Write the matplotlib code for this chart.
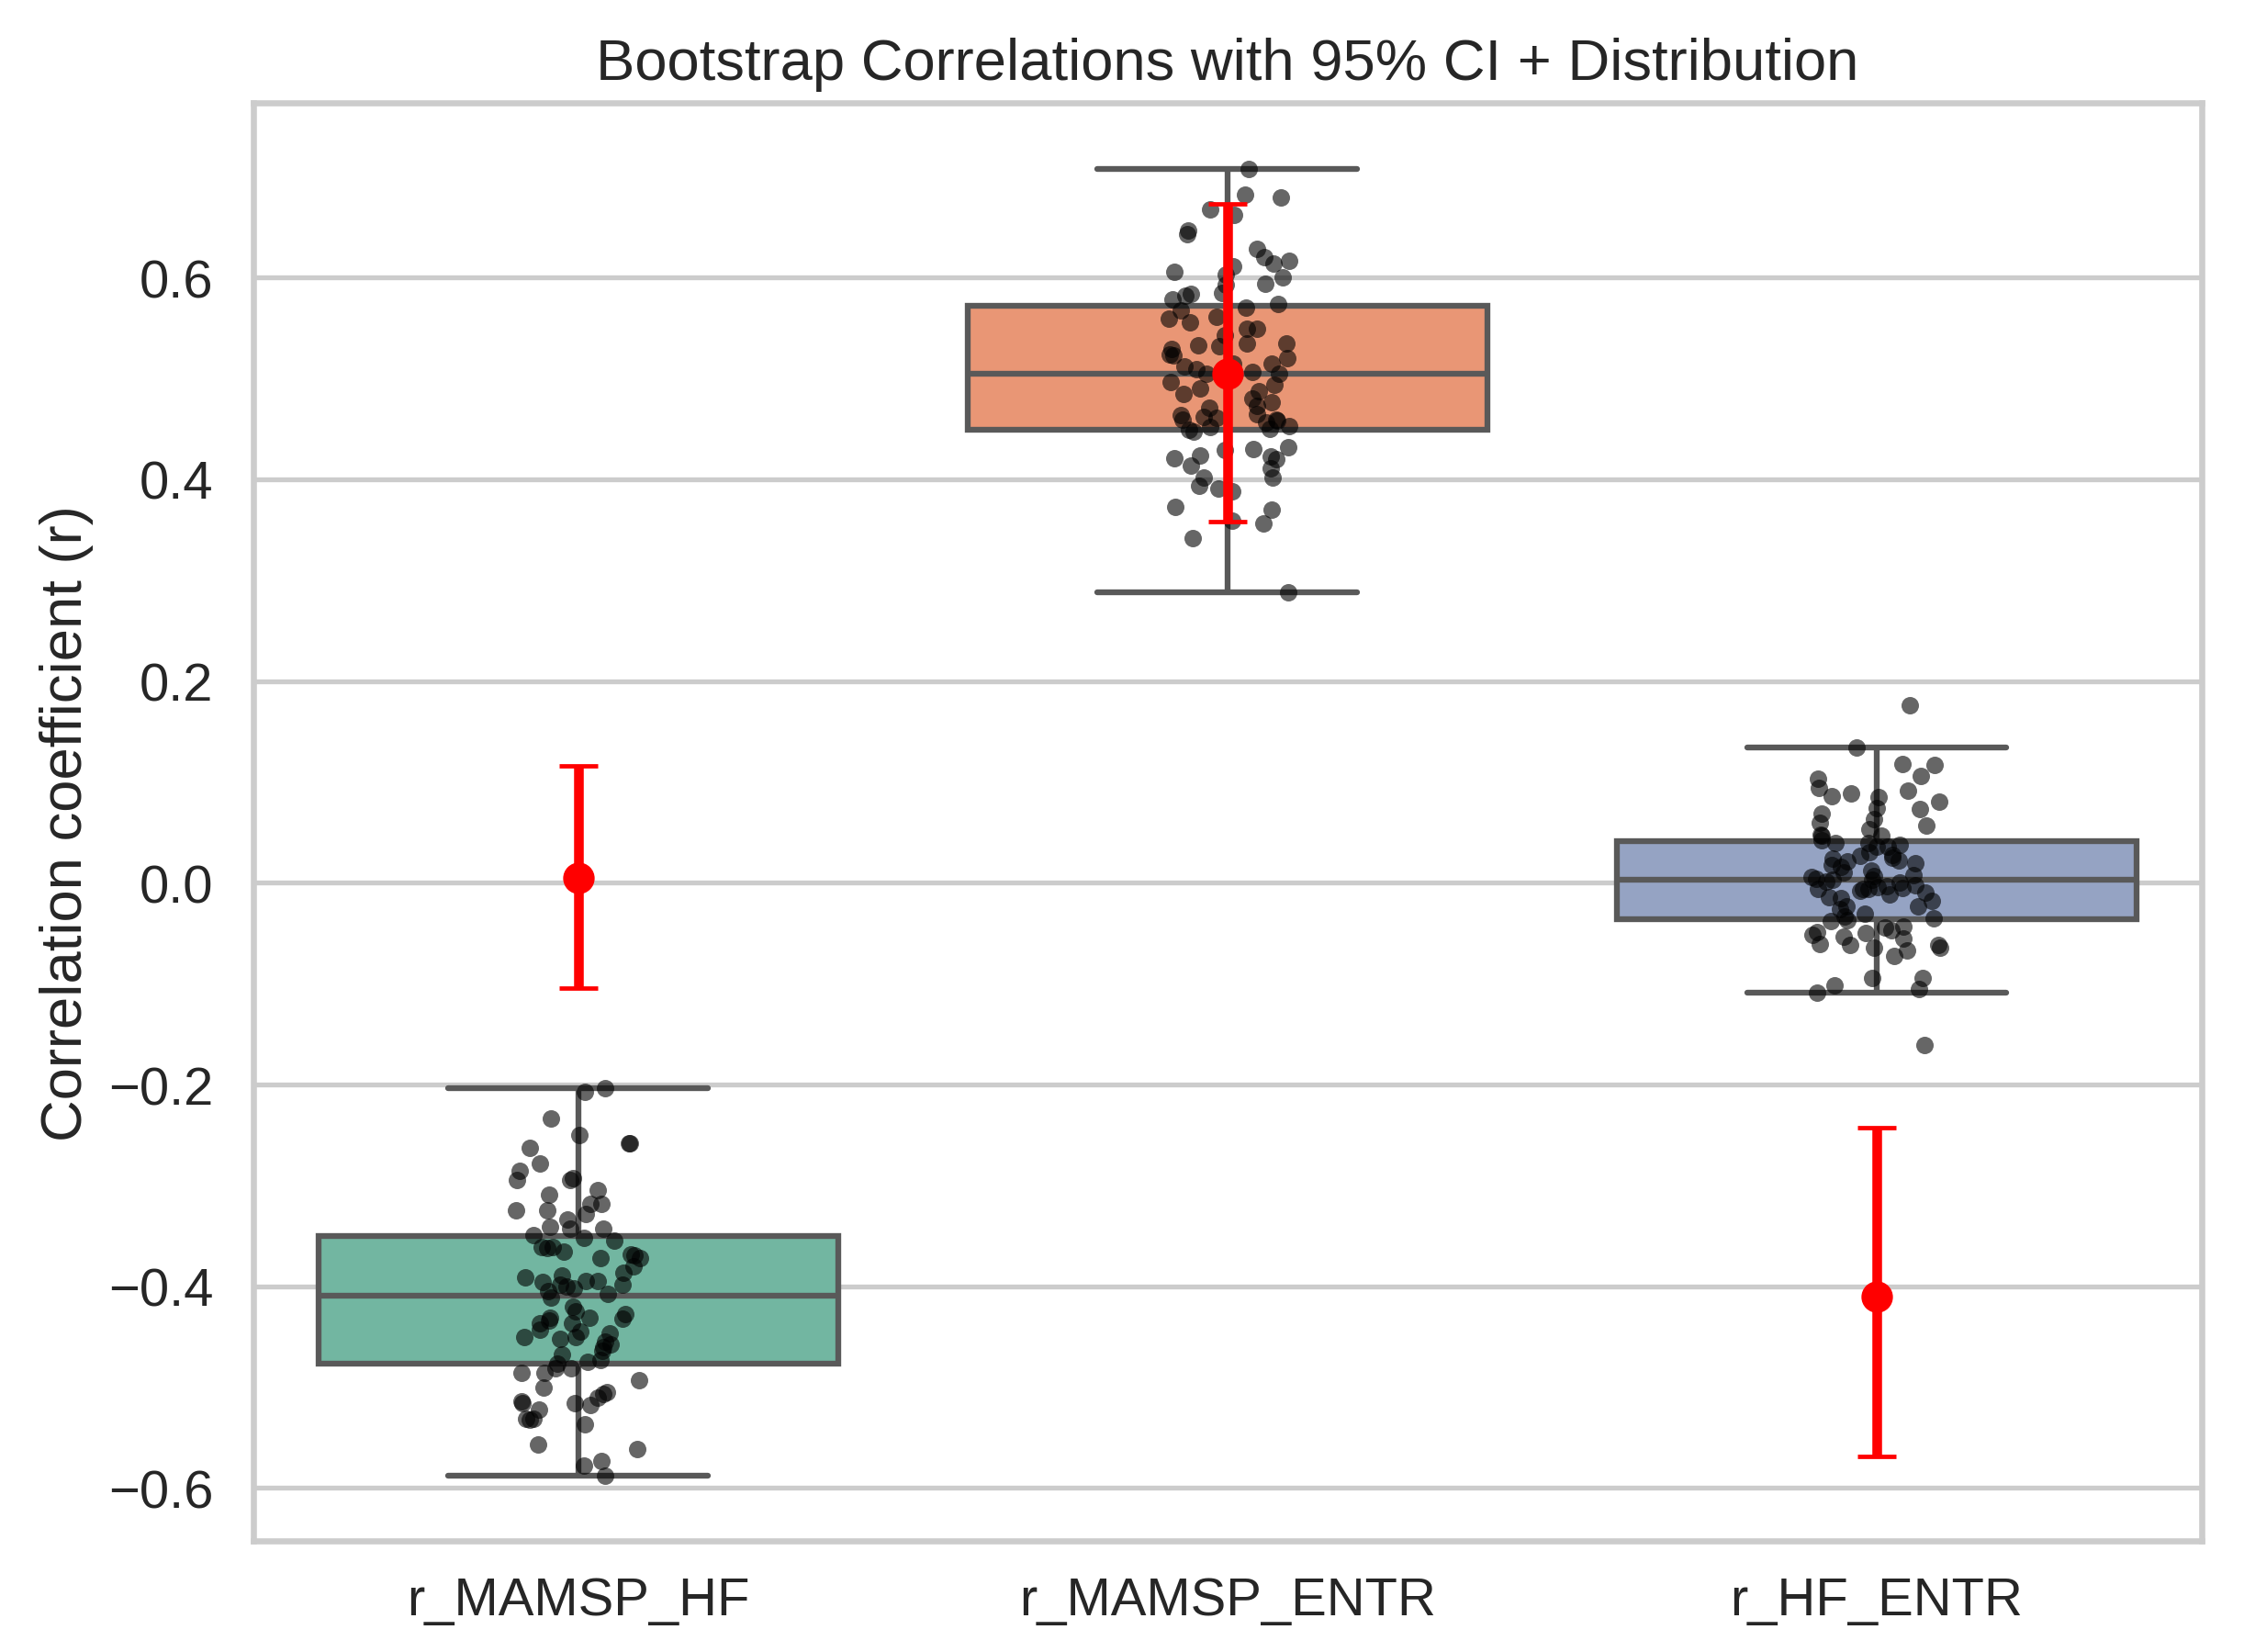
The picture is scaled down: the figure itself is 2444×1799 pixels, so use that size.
import numpy as np
import pandas as pd
import seaborn as sns
import matplotlib
matplotlib.use("Agg")
import matplotlib.pyplot as plt

# bootstrap correlation samples
categories = ["r_MAMSP_HF", "r_MAMSP_ENTR", "r_HF_ENTR"]

r_mamsp_hf = [
    -0.207, -0.204, -0.234, -0.250, -0.258, -0.258, -0.263, -0.278, -0.286, -0.295,
    -0.295, -0.293, -0.305, -0.309, -0.318, -0.318, -0.325, -0.328, -0.325, -0.334,
    -0.341, -0.343, -0.343, -0.349, -0.352, -0.355, -0.361, -0.361, -0.366, -0.369,
    -0.372, -0.372, -0.368, -0.387, -0.389, -0.391, -0.395, -0.395, -0.398, -0.396,
    -0.400, -0.402, -0.405, -0.411, -0.420, -0.428, -0.431, -0.431, -0.434, -0.437,
    -0.437, -0.443, -0.445, -0.450, -0.450, -0.452, -0.455, -0.458, -0.460, -0.464,
    -0.468, -0.473, -0.477, -0.475, -0.481, -0.481, -0.486, -0.486, -0.493, -0.500,
    -0.507, -0.510, -0.505, -0.516, -0.518, -0.514, -0.516, -0.522, -0.531, -0.531,
    -0.532, -0.537, -0.557, -0.561, -0.573, -0.578, -0.588,
    -0.362, -0.380, -0.398, -0.408, -0.425, -0.432, -0.447,
]

r_mamsp_entr = [
    0.708, 0.679, 0.682, 0.668, 0.662, 0.647, 0.643, 0.628, 0.620, 0.617,
    0.614, 0.611, 0.606, 0.603, 0.600, 0.594, 0.593, 0.585, 0.584, 0.582,
    0.578, 0.574, 0.570, 0.567, 0.561, 0.559, 0.556, 0.549, 0.549, 0.543,
    0.533, 0.535, 0.535, 0.532, 0.529, 0.524, 0.523, 0.520, 0.515, 0.515,
    0.512, 0.509, 0.506, 0.505, 0.505, 0.496, 0.494, 0.490, 0.487, 0.485,
    0.480, 0.476, 0.473, 0.471, 0.465, 0.464, 0.462, 0.461, 0.459, 0.459,
    0.458, 0.456, 0.453, 0.452, 0.449, 0.447, 0.450, 0.432, 0.430, 0.429,
    0.424, 0.423, 0.420, 0.421, 0.414, 0.411, 0.402, 0.402, 0.394, 0.391,
    0.388, 0.373, 0.370, 0.359, 0.356, 0.342, 0.288,
]

r_hf_entr = [
    0.176, 0.134, 0.117, 0.118, 0.106, 0.103, 0.094, 0.091, 0.089, 0.085,
    0.086, 0.080, 0.074, 0.073, 0.069, 0.063, 0.059, 0.057, 0.053, 0.048,
    0.047, 0.047, 0.042, 0.039, 0.039, 0.036, 0.036, 0.028, 0.027, 0.025,
    0.024, 0.021, 0.019, 0.018, 0.016, 0.010, 0.007, 0.006, 0.004, 0.003,
    0.003, 0.000, -0.002, -0.003, -0.005, -0.006, -0.006, -0.006, -0.008, -0.012,
    -0.014, -0.015, -0.023, -0.023, -0.031, -0.035, -0.037, -0.038, -0.043, -0.044,
    -0.047, -0.049, -0.050, -0.052, -0.053, -0.055, -0.061, -0.062, -0.064, -0.062,
    -0.064, -0.067, -0.073, -0.094, -0.094, -0.102, -0.105, -0.109, -0.161,
    0.038, 0.030, 0.022, 0.012, 0.008, 0.001, -0.004, -0.010, -0.018, -0.026, -0.033,
]

# point estimate and 95% CI (red bars)
ci_mean = [0.005, 0.505, -0.410]
ci_low = [-0.104, 0.358, -0.569]
ci_high = [0.116, 0.673, -0.243]

df = pd.DataFrame({
    "metric": [categories[0]] * len(r_mamsp_hf)
    + [categories[1]] * len(r_mamsp_entr)
    + [categories[2]] * len(r_hf_entr),
    "r": r_mamsp_hf + r_mamsp_entr + r_hf_entr,
})

sns.set_theme(style="whitegrid")
plt.rcParams["font.family"] = ["Liberation Sans", "DejaVu Sans"]
plt.rcParams["xtick.major.pad"] = 1.2
plt.rcParams["ytick.major.pad"] = 2.3
np.random.seed(3)

dpi = 380
fig = plt.figure(figsize=(2444 / dpi, 1800 / dpi), dpi=dpi)
ax = fig.add_axes([0.113, 0.067, 0.868, 0.870])

sns.boxplot(data=df, x="metric", y="r", order=categories, hue="metric",
            palette="Set2", showfliers=False, legend=False, linewidth=1.2, ax=ax)
sns.stripplot(data=df, x="metric", y="r", order=categories, color="black",
              alpha=0.6, size=3.6, jitter=0.1, ax=ax)

x = np.arange(len(categories))
yerr = [np.array(ci_mean) - np.array(ci_low), np.array(ci_high) - np.array(ci_mean)]
ax.errorbar(x, ci_mean, yerr=yerr, fmt="o", color="red", ecolor="red",
            elinewidth=2, capsize=4, capthick=0.9, markersize=5.5, zorder=10)

ax.set_xlim(-0.5, 2.5)
ax.set_title("Bootstrap Correlations with 95% CI + Distribution", pad=5)
ax.set_xlabel("")
ax.set_ylabel("Correlation coefficient (r)", labelpad=3)

fig.savefig("out.png", dpi=dpi)
